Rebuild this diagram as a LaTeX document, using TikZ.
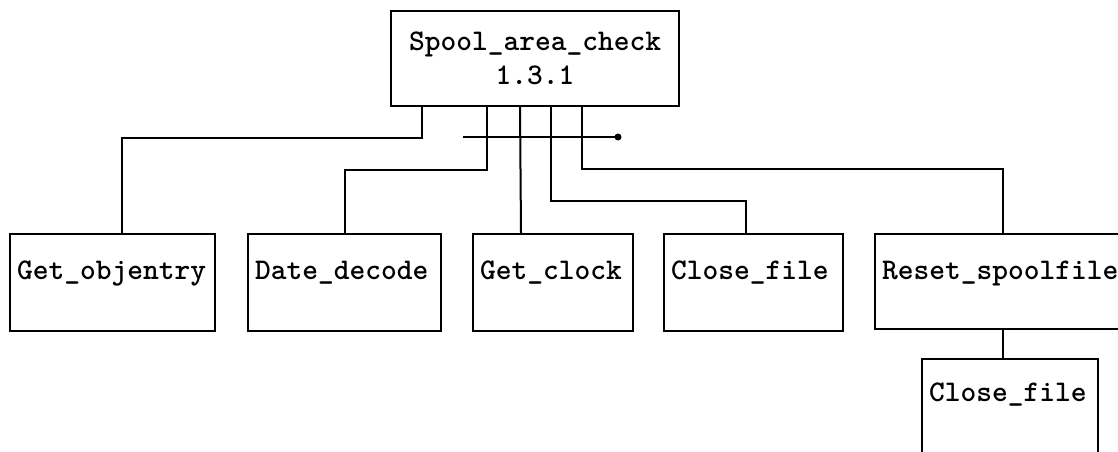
\documentclass[tikz,border=0pt]{standalone}
\usepackage{fontspec}
\usepackage{tikz}

\begin{document}
\begin{tikzpicture}[x=1pt,y=-1pt,line width=2pt,
	box/.style={draw,anchor=north west,font=\fontsize{30}{34}\selectfont\ttfamily\bfseries},
	module/.style={box,align=left,inner xsep=7pt,inner ysep=0pt,text height=45pt,text depth=52pt}]
\useasboundingbox (0,0) rectangle (1118,452);
\clip (0,0) rectangle (1118,452);
\node [box,align=center,minimum width=288pt,minimum height=95pt] (check) at (390,10) {Spool\_area\_check\\1.3.1};
\node [module,text width=191pt] (objentry) at (9,233) {Get\_objentry};
\node [module,text width=179pt] (datedecode) at (247,233) {Date\_decode};
\node [module,text width=146pt] (getclock) at (472,233) {Get\_clock};
\node [module,text width=165pt] (closefile) at (663,233) {Close\_file};
\node [module,text width=242pt,text depth=50pt] (resetspool) at (874,233) {Reset\_spoolfile};
\node [module,text width=162pt,text height=42pt,text depth=70pt] (closefileb) at (921,358) {Close\_file};
\draw ([xshift=32pt]check.south west) -- ++(0,31) -| ([xshift=9pt]objentry.north);
\draw ([xshift=97pt]check.south west) -- ++(0,63) -| (datedecode.north);
\draw ([xshift=130pt]check.south west) -- ([xshift=-32pt]getclock.north);
\draw ([xshift=161pt]check.south west) -- ++(0,94) -| ([xshift=-8pt]closefile.north);
\draw ([xshift=192pt]check.south west) -- ++(0,62) -| (resetspool.north);
\draw (resetspool.south) -- (resetspool.south |- closefileb.north);
\coordinate (busl) at (463,137);
\coordinate (busr) at (618,137);
\draw (busl) -- (busr);
\fill (busr) circle (3.5pt);
\end{tikzpicture}
\end{document}
